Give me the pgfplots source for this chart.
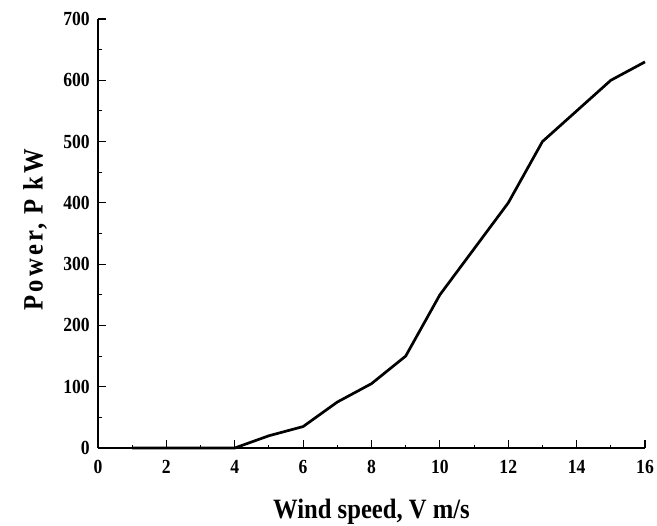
\documentclass[border=0pt]{standalone}
\usepackage{pgfplots}
\pgfplotsset{compat=1.18}
\usepackage{fontspec}
\setmainfont[FakeStretch=0.88]{Liberation Serif}
\begin{document}
\begin{tikzpicture}
\begin{axis}[
  scale only axis,
  width=547pt, height=429pt,
  xmin=0, xmax=16, ymin=0, ymax=700,
  axis x line*=bottom, axis y line*=left,
  axis line style={line width=1.5pt},
  xtick={0,2,...,16}, ytick={0,100,...,700},
  minor x tick num=1, minor y tick num=1,
  xtick align=inside, ytick align=inside,
  major tick length=8pt, minor tick length=3.5pt,
  tick style={line width=1.1pt, black},
  /pgf/number format/assume math mode=true,
  ticklabel style={font=\fontsize{20}{20}\selectfont\bfseries, inner sep=0pt},
  xticklabel style={anchor=base, yshift=-25pt},
  yticklabel style={anchor=east, xshift=-8pt},
  xlabel={Wind speed, V m/s},
  ylabel={\addfontfeature{LetterSpace=11}Power, P kW},
  label style={font=\fontsize{28}{28}\selectfont\bfseries, inner sep=0pt},
  xlabel style={at={([yshift=-70pt]axis description cs:0.5,0)}, anchor=base},
  ylabel style={at={([xshift=-63pt,yshift=4pt]axis description cs:0,0.5)}, anchor=center},
  clip=false,
]
\coordinate (SW) at (rel axis cs:0,0);
\coordinate (NE) at (rel axis cs:1,1);
\addplot[black, line width=2.7pt, line join=round] coordinates {
(1,0)(2,0)(3,0)(4,0)(5,20)(6,35)(7,75)(8,105)(9,150)(10,250)(11,325)(12,400)(13,500)(14,550)(15,600)(16,630)
};
\end{axis}
\pgfresetboundingbox
\path ([shift={(-98pt,-77pt)}]SW) rectangle ([shift={(12pt,19pt)}]NE);
\end{tikzpicture}
\end{document}
